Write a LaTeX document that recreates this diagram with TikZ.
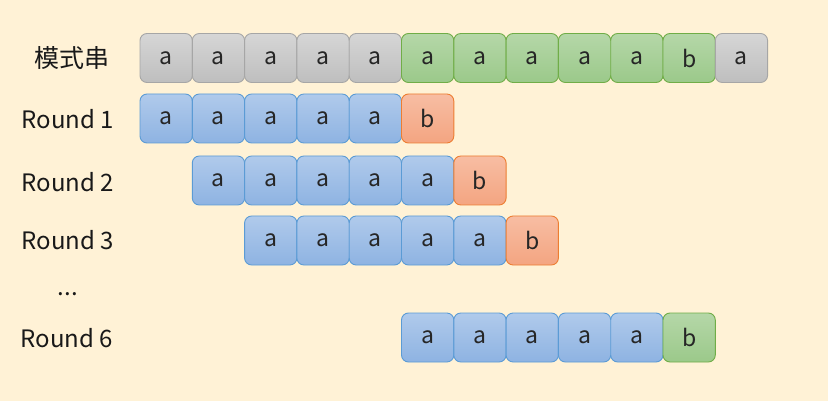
\documentclass[tikz,border=0pt]{standalone}
\usepackage{fontspec}
\setmainfont{Noto Sans CJK SC}
\definecolor{bg}{HTML}{FFF2D6}
\definecolor{gT}{HTML}{D6D6D6}\definecolor{gB}{HTML}{BEBEBE}\definecolor{gD}{HTML}{A6A6A6}
\definecolor{nT}{HTML}{B5D7A8}\definecolor{nB}{HTML}{9BC98A}\definecolor{nD}{HTML}{70AD47}
\definecolor{uT}{HTML}{B0CAEB}\definecolor{uB}{HTML}{8EB3E2}\definecolor{uD}{HTML}{5B9BD5}
\definecolor{oT}{HTML}{F7BDA3}\definecolor{oB}{HTML}{F4A581}\definecolor{oD}{HTML}{ED7D31}
\tikzset{
  cell/.style={rounded corners=7pt, line width=0.9pt, minimum width=52.3pt, minimum height=49pt, inner sep=0pt, font=\fontsize{23}{24}\selectfont, text=black!85},
  grey/.style={cell, draw=gD, top color=gT, bottom color=gB},
  green/.style={cell, draw=nD, top color=nT, bottom color=nB},
  blue/.style={cell, draw=uD, top color=uT, bottom color=uB},
  orange/.style={cell, draw=oD, top color=oT, bottom color=oB},
  lbl/.style={font=\fontsize{24}{26}\selectfont, text=black!90, inner sep=0pt}
}
\begin{document}
\begin{tikzpicture}[x=1pt,y=-1pt]
\fill[bg] (0,0) rectangle (828,401);
\useasboundingbox (0,0) rectangle (828,401);
% labels
\node[lbl, font=\fontsize{25}{27}\selectfont] (l0) at (72,58) {模式串};
\node[lbl] (l1) at (68,119) {Round 1};
\node[lbl] (l2) at (68,182) {Round 2};
\node[lbl] (l3) at (68,240) {Round 3};
\node[lbl] (ld) at (68,294) {...};
\node[lbl] (l6) at (67,338) {Round 6};
% pattern row
\foreach \i/\s/\t in {0/grey/a,1/grey/a,2/grey/a,3/grey/a,4/grey/a,5/green/a,6/green/a,7/green/a,8/green/a,9/green/a,10/green/b,11/grey/a}
  \node[\s] (p\i) at ({166.15+52.3*\i},58) {\t};
% round 1
\foreach \i/\s/\t in {0/blue/a,1/blue/a,2/blue/a,3/blue/a,4/blue/a,5/orange/b}
  \node[\s] (ra\i) at ({166.15+52.3*\i},118.5) {\t};
% round 2
\foreach \i/\s/\t in {1/blue/a,2/blue/a,3/blue/a,4/blue/a,5/blue/a,6/orange/b}
  \node[\s] (rb\i) at ({166.15+52.3*\i},180.5) {\t};
% round 3
\foreach \i/\s/\t in {2/blue/a,3/blue/a,4/blue/a,5/blue/a,6/blue/a,7/orange/b}
  \node[\s] (rc\i) at ({166.15+52.3*\i},240.5) {\t};
% round 6
\foreach \i/\s/\t in {5/blue/a,6/blue/a,7/blue/a,8/blue/a,9/blue/a,10/green/b}
  \node[\s] (rf\i) at ({166.15+52.3*\i},337.5) {\t};
\end{tikzpicture}
\end{document}
